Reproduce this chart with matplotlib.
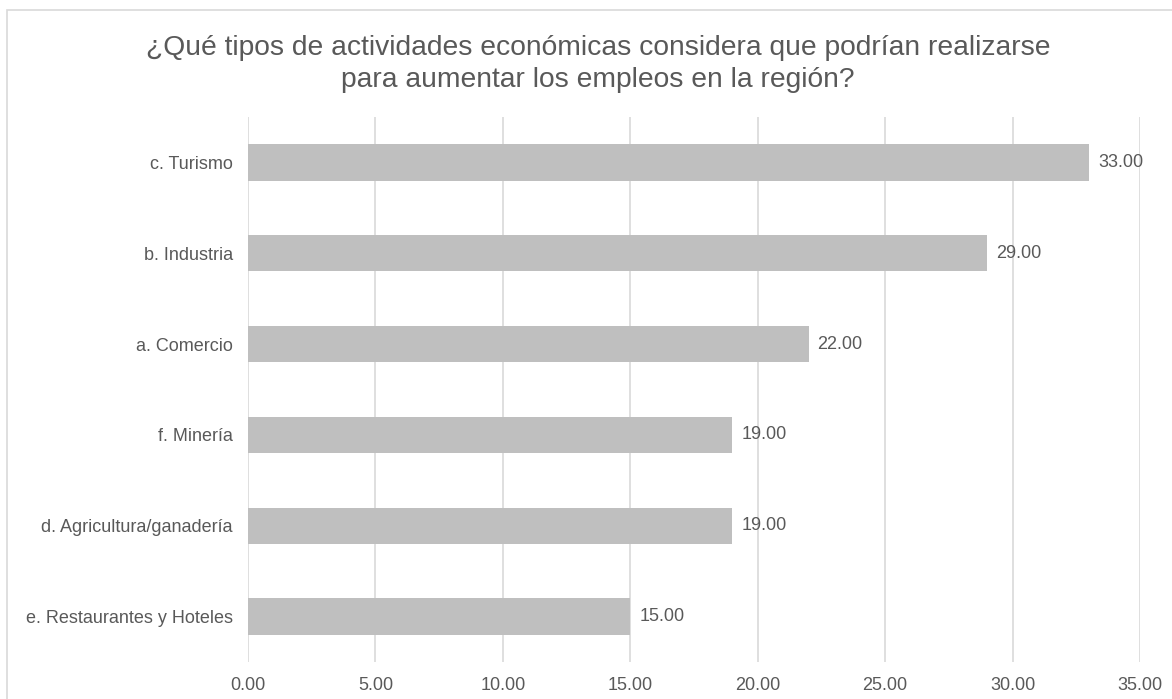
import matplotlib
matplotlib.use('Agg')
import matplotlib.pyplot as plt
from matplotlib.patches import Rectangle

# data (top to bottom as shown)
categorias = ['c. Turismo', 'b. Industria', 'a. Comercio', 'f. Minería',
              'd. Agricultura/ganadería', 'e. Restaurantes y Hoteles']
valores = [33, 29, 22, 19, 19, 15]
ticks_x = [0, 5, 10, 15, 20, 25, 30, 35]

txt = '#595959'
plt.rcParams['font.family'] = ['Liberation Sans', 'DejaVu Sans']

fig = plt.figure(figsize=(11.72, 6.99), dpi=100)
ax = fig.add_axes([248/1172, 1 - 662/699, (1140 - 248)/1172, (662 - 117)/699])

# frame of the chart area (cut off on right and bottom)
fig.patches.append(Rectangle((7/1172, -0.1), 1.2, (699 - 10)/699 + 0.1,
                             transform=fig.transFigure, fill=False,
                             edgecolor='#D9D9D9', linewidth=1.2))

ypos = list(range(len(categorias)))[::-1]
ax.barh(ypos, valores, height=0.4, color='#BFBFBF', zorder=2)
for y, v in zip(ypos, valores):
    ax.text(v + 0.35, y, f'{v:.2f}', va='center', ha='left', fontsize=13, color=txt)

ax.set_xlim(0, 35)
ax.set_ylim(-0.5, len(categorias) - 0.5)
ax.set_xticks(ticks_x)
ax.set_xticklabels([f'{t:.2f}' for t in ticks_x])
ax.set_yticks(ypos)
ax.set_yticklabels(categorias)
ax.tick_params(axis='both', length=0, labelsize=13, colors=txt)
ax.tick_params(axis='x', pad=11)
ax.tick_params(axis='y', pad=11)
ax.grid(axis='x', color='#D9D9D9', linewidth=1.2, zorder=0)
for s in ax.spines.values():
    s.set_visible(False)

fig.text(598/1172, 1 - 64/699,
         '¿Qué tipos de actividades económicas considera que podrían realizarse\npara aumentar los empleos en la región?',
         ha='center', va='center', fontsize=20.3, color=txt, linespacing=1.28)

fig.savefig('out.png', dpi=100)
